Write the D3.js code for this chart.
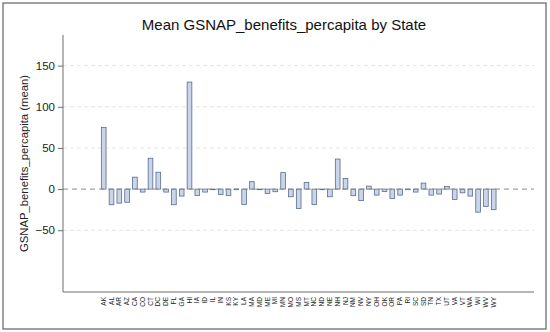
<!DOCTYPE html>
<html>
<head>
<meta charset="utf-8">
<script src="https://cdn.jsdelivr.net/npm/d3@7"></script>
<style>
  body { margin: 0; background: #fff; }
  svg text { font-family: "Liberation Sans", Arial, sans-serif; }
</style>
</head>
<body>
<svg id="chart"></svg>
<script>
const width = 550, height = 332;

const states = ['AK','AL','AR','AZ','CA','CO','CT','DC','DE','FL','GA','HI','IA','ID','IL','IN','KS','KY','LA','MA','MD','ME','MI','MN','MO','MS','MT','NC','ND','NE','NH','NJ','NM','NV','NY','OH','OK','OR','PA','RI','SC','SD','TN','TX','UT','VA','VT','WA','WI','WV','WY'];
const values = [75, -19, -17, -16, 14.5, -3.6, 37.5, 20.5, -3.6, -19, -8.5, 130, -7.7, -3.6, -0.6, -6.5, -7.7, -0.6, -18.6, 9, -0.6, -5.3, -3.2, 20, -9.3, -23.5, 8, -18.6, -0.6, -9.3, 36.5, 13, -8, -14, 3.6, -7.3, -2.8, -11.3, -7.3, -0.6, -3.6, 7.3, -7.3, -6, 3.3, -12.5, -4.5, -8.5, -28, -21, -25];
const yTicks = [150, 100, 50, 0, -50];

const plot = { left: 63, right: 534, top: 35, bottom: 292 };

const svg = d3.select('#chart')
	.attr('width', width)
	.attr('height', height);

// outer frame
svg.append('rect')
	.attr('x', 3).attr('y', 3)
	.attr('width', 543).attr('height', 326)
	.attr('fill', '#fff')
	.attr('stroke', '#6e6e6e')
	.attr('stroke-width', 1.3);

const xScale = d3.scaleBand()
	.domain(states)
	.range([99.8, 497.6])
	.paddingInner(0.4)
	.paddingOuter(0.2);

const yScale = d3.scaleLinear()
	.domain([-125, 187.2])
	.range([plot.bottom, plot.top]);

// gridlines
svg.append('g')
	.selectAll('line')
	.data(yTicks.filter(d => d !== 0))
	.enter()
	.append('line')
	.attr('x1', plot.left).attr('x2', plot.right)
	.attr('y1', d => yScale(d)).attr('y2', d => yScale(d))
	.attr('stroke', '#e4e4e4')
	.attr('stroke-width', 1)
	.attr('stroke-dasharray', '4,3');

// bars
svg.append('g')
	.selectAll('rect')
	.data(states.map((s, i) => ({ state: s, value: values[i] })))
	.enter()
	.append('rect')
	.attr('x', d => xScale(d.state))
	.attr('width', xScale.bandwidth())
	.attr('y', d => yScale(Math.max(0, d.value)))
	.attr('height', d => Math.max(0.6, Math.abs(yScale(d.value) - yScale(0))))
	.attr('fill', '#c8d5ea')
	.attr('stroke', '#5a6b8c')
	.attr('stroke-width', 0.8);

// zero reference line
svg.append('line')
	.attr('x1', plot.left).attr('x2', plot.right)
	.attr('y1', yScale(0)).attr('y2', yScale(0))
	.attr('stroke', '#8a8a8a')
	.attr('stroke-width', 1)
	.attr('stroke-dasharray', '5,4');

// y axis
const yAxis = svg.append('g')
	.attr('transform', `translate(${plot.left},0)`)
	.call(d3.axisLeft(yScale).tickValues(yTicks).tickSize(5).tickPadding(3)
		.tickFormat(d => d < 0 ? '\u2212' + Math.abs(d) : d));
yAxis.select('.domain').attr('d', `M0,${plot.top}V${plot.bottom}`).attr('stroke', '#6e6e6e');
yAxis.selectAll('.tick line').attr('stroke', '#6e6e6e');
yAxis.selectAll('.tick text').attr('font-size', 11.5).attr('fill', '#222');

// x axis
const xAxis = svg.append('g')
	.attr('transform', `translate(0,${plot.bottom})`)
	.call(d3.axisBottom(xScale).tickSize(0).tickPadding(4));
xAxis.select('.domain').attr('d', `M${plot.left},0H${plot.right}`).attr('stroke', '#6e6e6e');
xAxis.selectAll('.tick text')
	.attr('font-size', 6.5)
	.attr('fill', '#222')
	.attr('transform', 'rotate(-90)')
	.attr('text-anchor', 'end')
	.attr('x', -5)
	.attr('y', 0)
	.attr('dy', '0.32em');

// title
svg.append('text')
	.attr('x', 284).attr('y', 30)
	.attr('text-anchor', 'middle')
	.attr('font-size', 15)
	.attr('fill', '#111')
	.text('Mean GSNAP_benefits_percapita by State');

// y label
svg.append('text')
	.attr('transform', `translate(28,${(plot.top + plot.bottom) / 2}) rotate(-90)`)
	.attr('text-anchor', 'middle')
	.attr('font-size', 11.3)
	.attr('fill', '#222')
	.text('GSNAP_benefits_percapita (mean)');
</script>
</body>
</html>
